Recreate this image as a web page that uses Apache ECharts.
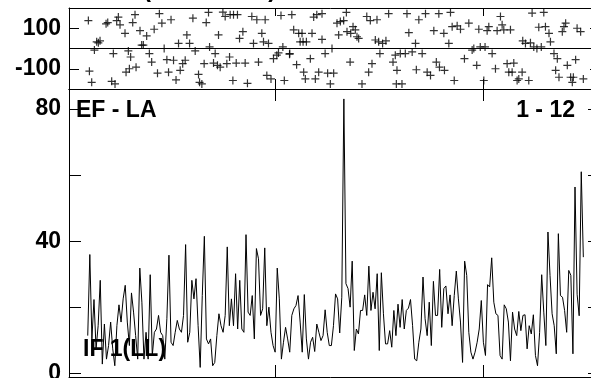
<!DOCTYPE html>
<html>
<head>
<meta charset="utf-8">
<script src="https://cdn.jsdelivr.net/npm/echarts@6/dist/echarts.min.js"></script>
<style>
html,body{margin:0;padding:0;background:#fff;}
#chart{width:591px;height:378px;}
</style>
</head>
<body>
<div id="chart"></div>
<script>
// ---- data ----
const firstBin = 10;
const amplitude = [
11.5,36,10.5,22.4,7.5,14.5,28.2,2.9,15,4.4,8.5,15.6,7.5,2.4,14.5,20.8,15.6,22.6,26.7,15.6,
8.5,24.4,18.6,11.5,4.4,31.9,21.6,4.4,12.5,4.4,29.9,5.5,12.5,13.5,17.6,12.5,11.5,4.4,16.6,
35.8,9.5,8.5,12.5,16.1,13.5,12.5,17.6,39,9.5,12.5,28.2,22.6,28.7,14.5,1.9,23.6,41.5,10.5,9,
10.5,2.4,3.4,11.5,18.1,14.5,12.5,17.6,38.3,14.5,22.6,14.5,30.2,13.5,28.2,13.5,12.5,42,18.6,17.6,
23.6,10.5,37.8,34.7,17.6,19.6,38,14.5,20.1,12.5,8.5,
6.5,31.9,22.6,4.4,9.5,14,10.5,6.5,17.6,19.6,20.6,23.6,15.6,6.5,23.9,10.5,4.4,9.5,11,6.7,
15,12.5,10,11.5,19.3,12.5,8.5,8.5,14.5,24.1,22.6,12.3,23.1,83,27.2,25.7,20.1,34,7,13.5,
12,19.1,19.1,23.8,17.6,32.5,19.1,24.6,19.6,30.2,7,30.5,18.1,9,
9,13,8,19.1,11.5,21,14,22.4,13.5,19.1,19.8,22.4,
14.5,4.4,3.9,9.5,13.5,29.2,16.6,11.5,21.6,8.5,27.9,17.6,17.6,31.5,14,25.7,26.5,18.1,23.8,14.5,
23.6,31,22.6,15.6,3.4,34,29.7,12.5,6.5,4.4,6.5,9.5,13.5,22.1,9.5,5.5,26.9,26.2,35,21.6,
18.1,17.6,5.5,4.4,20.8,19.6,15.6,3.9,18.6,13.5,11.5,18.8,13,17.6,17.8,
7.5,14.5,12,17.8,5.5,2.4,12.5,
29.9,18.6,8.5,42.8,29.7,18.1,14.5,6,42.3,23.6,23.1,19.1,12.5,31.2,29.7,6,56.4,24,17.5,61,35.2
];
const phaseBin = [
10.3,10.8,11.9,13.2,14.3,15.1,15.9,18.8,19.6,21.5,22.3,23.1,23.9,24.7,25.5,27.9,28.4,29.5,30,30.6,
31.6,32.7,33.2,35.1,35.9,36.7,38.3,39.6,40.7,41.9,43.5,44.4,45.6,46.7,48,48.8,50,51.2,52.4,53.6,
54.4,55.6,56.8,57.6,58.9,60.5,61.6,63.2,63.7,64.8,65.9,66.9,68,68.5,70.4,71.2,72.3,72.8,73.6,74.9,
76,76.8,78.1,78.4,79.7,80,81.3,81.9,82.9,84.5,85.6,86.7,88.8,89.6,91.2,92,93.6,94.4,95.2,96,
96.8,98,99.2,100.8,101.6,102.8,103.7,104.4,106.9,
107,108,108.9,110.3,111.3,112,112.9,113.4,113.7,114.5,115,116.9,117.7,118.5,119.3,120,120.9,122.5,122.5,124,
125.2,126.5,127.3,128.1,129.7,130.5,131.3,132.9,134.2,134.5,136,136.3,137.4,138.5,139.3,140.1,141.7,144,144.9,145.7,
146.5,148.1,148.9,149.7,150.3,151.6,153.2,154.5,156.6,157.7,158.2,158.5,160.1,160.9,162.5,163.3,164.2,165.8,167.4,167.8,
169,170.6,172.2,173,174.6,176.2,177.4,178.6,178.9,181,181.3,183.4,184.2,185,186,187.4,189,190.9,193,194.6,
195.4,196.8,197.8,198.5,200.2,200.8,201.8,202.6,204.2,205.8,206.6,208.2,209,209.8,211.4,212.2,213,213.8,214.6,216.2,
217,218.6,218.9,220.2,221.8,222.6,223.4,224.2,225.7,226.6,227.8,229,229.8,231.5,232.2,233.9,234.7,235.5,236.3,237.9,
238.7,239.5,240.3,241.9,242.7,243.2,244.3,245,246.7,248
];
const phaseDeg = [
138,-112,-167,-8,33,28,38,122,128,-162,-25,-175,138,155,117,75,-117,-12,-100,-42,
128,167,-92,88,17,17,62,-25,-67,95,-122,172,125,0,-55,-117,142,-58,-155,25,
-108,-75,-58,67,25,150,-12,-128,-167,-175,-75,128,178,8,-72,-25,-83,67,-92,180,
158,-75,-42,167,-158,167,-72,167,50,83,-72,-172,158,25,142,-67,75,33,142,-133,
25,-150,-50,-33,-22,163,8,-158,-28,
-25,167,92,-80,75,33,75,33,-117,-150,33,-50,75,155,-150,167,-117,172,45,-25,
-122,-175,0,-122,125,67,133,138,178,83,-67,75,108,92,58,50,-175,158,-117,138,
-75,42,142,33,-25,25,38,172,-67,-33,-175,-108,-25,-175,-25,172,78,-17,25,-105,
142,-25,172,-117,-133,88,-67,172,-92,75,-108,25,178,108,-158,112,95,-50,125,-8,
0,-83,95,8,-158,8,88,108,-25,-100,88,158,117,92,-75,-117,92,-117,-72,-158,
-150,-117,38,25,-158,28,175,8,0,105,8,178,108,75,33,-25,-108,-50,-142,83,
108,125,-83,-142,-167,-142,-55,100,83,-150
];
const ampTicks = [0,20,40,60,80];
const ampLabels = [0,40,80];
const phaseTicks = [-100,100];
const binTicks = [100,200];
const panelTexts = { topLeft: 'EF - LA', topRight: '1 - 12', bottomLeft: 'IF 1(LL)', header: '(DEGREES)' };

// ---- build ----
const ampData = amplitude.map((v, i) => [firstBin + i, v]);
const phaseData = phaseBin.map((b, i) => [b, phaseDeg[i]]);

const FONT = 'Liberation Sans, Arial, sans-serif';
const labelStyle = { color: '#000', fontSize: 23, fontWeight: 'bold', fontFamily: FONT, margin: 8 };
const lineSt = { color: '#000', width: 1 };

function xAx(grid, pos, tickLen) {
  return {
    type: 'value', gridIndex: grid, position: pos, min: 1, max: 256,
    axisLine: { show: true, onZero: false, lineStyle: lineSt },
    axisTick: { show: true, inside: true, length: tickLen, customValues: binTicks, lineStyle: lineSt },
    axisLabel: { show: false }, splitLine: { show: false }
  };
}
const chart = echarts.init(document.getElementById('chart'), null, { renderer: 'canvas' });
chart.setOption({
  animation: false,
  backgroundColor: '#fff',
  grid: [
    { left: 69, top: 8, width: 531, height: 81, containLabel: false, outerBoundsMode: 'none' },
    { left: 69, top: 89, width: 531, height: 288, containLabel: false, outerBoundsMode: 'none' }
  ],
  xAxis: [
    xAx(0, 'bottom', 10), xAx(0, 'top', 8),
    xAx(1, 'top', 12), xAx(1, 'bottom', 12)
  ],
  yAxis: [
    { type: 'value', gridIndex: 0, position: 'left', min: -200, max: 200,
      axisLine: { show: true, onZero: false, lineStyle: lineSt },
      axisTick: { show: true, inside: true, length: 10, customValues: phaseTicks, lineStyle: lineSt },
      axisLabel: Object.assign({ customValues: phaseTicks }, labelStyle), splitLine: { show: false } },
    { type: 'value', gridIndex: 0, position: 'right', min: -200, max: 200,
      axisLine: { show: false }, axisTick: { show: true, inside: true, length: 10, customValues: phaseTicks, lineStyle: lineSt },
      axisLabel: { show: false }, splitLine: { show: false } },
    { type: 'value', gridIndex: 1, position: 'left', min: -1, max: 86,
      axisLine: { show: true, onZero: false, lineStyle: lineSt },
      axisTick: { show: true, inside: true, length: 12, customValues: ampTicks, lineStyle: lineSt },
      axisLabel: Object.assign({ customValues: ampLabels }, labelStyle), splitLine: { show: false } },
    { type: 'value', gridIndex: 1, position: 'right', min: -1, max: 86,
      axisLine: { show: false }, axisTick: { show: true, inside: true, length: 12, customValues: ampTicks, lineStyle: lineSt },
      axisLabel: { show: false }, splitLine: { show: false } }
  ],
  graphic: [
    { type: 'text', left: 76, top: 99, z: 5, style: { text: panelTexts.topLeft, font: 'bold 23px ' + FONT, fill: '#000' } },
    { type: 'text', right: 16, top: 99, z: 5, style: { text: panelTexts.topRight, font: 'bold 23px ' + FONT, fill: '#000' } },
    { type: 'text', left: 83, top: 338, z: 1, style: { text: panelTexts.bottomLeft, font: 'bold 23px ' + FONT, fill: '#000' } },
    { type: 'text', left: 143, top: -22, z: 5, style: { text: panelTexts.header, font: 'bold 24px ' + FONT, fill: '#000' } }
  ],
  series: [
    { type: 'scatter', xAxisIndex: 0, yAxisIndex: 0, data: phaseData,
      symbol: 'path://M3.4,0h1.2v3.4h3.4v1.2h-3.4v3.4h-1.2v-3.4h-3.4v-1.2h3.4z', symbolSize: 8,
      itemStyle: { color: '#000' }, silent: true, z: 3,
      markLine: { silent: true, symbol: ['none', 'none'], label: { show: false },
        lineStyle: { color: '#000', width: 1, type: 'solid' }, data: [{ yAxis: 0 }] } },
    { type: 'line', xAxisIndex: 3, yAxisIndex: 2, data: ampData, symbol: 'none', z: 3,
      lineStyle: { color: '#000', width: 1 } }
  ]
});
</script>
</body>
</html>
